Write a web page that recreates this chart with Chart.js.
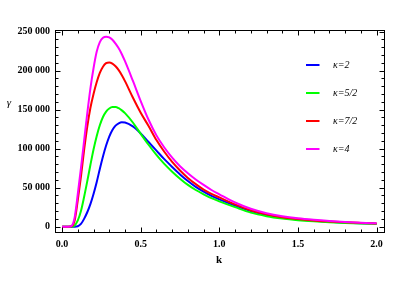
<!DOCTYPE html>
<html>
<head>
<meta charset="utf-8">
<script src="https://cdn.jsdelivr.net/npm/chart.js@4/dist/chart.umd.min.js"></script>
<style>
  html, body { margin: 0; padding: 0; background: #fff; }
  #wrap { width: 400px; height: 300px; }
</style>
</head>
<body>
<div id="wrap"><canvas id="graph"></canvas></div>
<script>
// Datos
const kValues = [0, 0.02, 0.04, 0.06, 0.08, 0.10, 0.12, 0.14, 0.16, 0.18, 0.20, 0.22, 0.24, 0.26, 0.28, 0.30, 0.32, 0.34, 0.36, 0.38, 0.40,
    0.45, 0.50, 0.55, 0.60, 0.65, 0.70, 0.75, 0.80, 0.85, 0.90, 0.95, 1.0, 1.1, 1.2, 1.3, 1.4, 1.5, 1.6, 1.7, 1.8, 1.9, 2.0];
const gammaK2  = [0, 0, 0, 0, 0, 500, 3500, 10000, 18500, 29000, 42000, 57000, 74000, 90000, 104000, 115500, 124000, 129500, 132500, 133800, 133500,
    128500, 119500, 108500, 97500, 86500, 76500, 67000, 58500, 51000, 45000, 39500, 35000, 27000, 20000, 15000, 11600, 9200, 7500, 6200, 5200, 4400, 3800];
const gammaK52 = [0, 0, 0, 0, 1500, 8000, 20000, 38000, 58000, 79000, 99000, 116000, 130000, 140500, 147500, 151500, 153300, 153300, 151800, 149000, 145500,
    133500, 119000, 105000, 92000, 80500, 70500, 61500, 53500, 47000, 41500, 36500, 32500, 25000, 18000, 13500, 10500, 8400, 6900, 5700, 4800, 4100, 3500];
const gammaK72 = [0, 0, 0, 500, 8000, 34000, 64000, 98000, 128000, 152000, 170000, 185000, 197000, 205000, 209500, 210500, 209000, 205500, 200500, 194000, 186500,
    165500, 146000, 129000, 111000, 96000, 83000, 72000, 62500, 54500, 47500, 42000, 37500, 28500, 21000, 15800, 12200, 9800, 8000, 6700, 5600, 4800, 4100];
const gammaK4  = [0, 0, 0, 1000, 12000, 42000, 75000, 110000, 145000, 177000, 203000, 224000, 236500, 242000, 243500, 242500, 239500, 234500, 228500, 221000, 212000,
    187000, 161000, 137000, 117000, 101500, 88500, 77500, 68500, 60500, 53500, 47000, 41500, 31000, 23000, 17300, 13400, 10700, 8800, 7300, 6100, 5100, 4300];
const kappaLabels = ["κ=2", "κ=5/2", "κ=7/2", "κ=4"];
const seriesColors = ["#0000ff", "#00ff00", "#ff0000", "#ff00ff"];
const xTicks = [0, 0.5, 1.0, 1.5, 2.0];
const yTicks = [0, 50000, 100000, 150000, 200000, 250000];

// Convierte una serie en puntos {x, y}
function toPoints(values) {
    return kValues.map((k, i) => ({ x: k, y: values[i] }));
}

// Marco con marcas hacia adentro (estilo Mathematica) y leyenda interna
const framePlugin = {
    id: "framePlugin",
    afterDraw(chart) {
        const ctx = chart.ctx;
        const { left, right, top, bottom } = chart.chartArea;
        const xs = chart.scales.x;
        const ys = chart.scales.y;
        const l = Math.round(left) + 0.5, r = Math.round(right) + 0.5;
        const t = Math.round(top) + 0.5, b = Math.round(bottom) + 0.5;
        ctx.save();
        ctx.strokeStyle = "#000";
        ctx.lineWidth = 1;
        ctx.strokeRect(l, t, r - l, b - t);

        ctx.beginPath();
        // Marcas del eje x (cada 0.1, mayores cada 0.5)
        for (let i = 0; i <= 20; i++) {
            const px = Math.round(xs.getPixelForValue(i / 10)) + 0.5;
            const len = i % 5 === 0 ? 5 : 3;
            ctx.moveTo(px, b); ctx.lineTo(px, b - len);
            ctx.moveTo(px, t); ctx.lineTo(px, t + len);
        }
        // Marcas del eje y (cada 10000, mayores cada 50000)
        for (let i = 0; i <= 25; i++) {
            const py = Math.round(ys.getPixelForValue(i * 10000)) + 0.5;
            const len = i % 5 === 0 ? 5 : 3;
            ctx.moveTo(l, py); ctx.lineTo(l + len, py);
            ctx.moveTo(r, py); ctx.lineTo(r - len, py);
        }
        ctx.stroke();

        // Titulos de ejes
        ctx.fillStyle = "#000";
        ctx.textAlign = "center";
        ctx.textBaseline = "middle";
        ctx.font = "bold 11px 'Liberation Serif'";
        ctx.fillText("k", 219, 260);
        ctx.font = "italic 11px 'Liberation Serif'";
        ctx.fillText("γ", 9, 103);

        // Leyenda
        const rows = [65, 93, 121, 149];
        chart.data.datasets.forEach((ds, i) => {
            ctx.strokeStyle = ds.borderColor;
            ctx.lineWidth = 2;
            ctx.beginPath();
            ctx.moveTo(306, rows[i]); ctx.lineTo(319.5, rows[i]);
            ctx.stroke();
            ctx.fillStyle = "#000";
            ctx.textAlign = "left";
            ctx.font = "italic 10px 'Liberation Serif'";
            ctx.fillText(ds.label, 333, rows[i]);
        });
        ctx.restore();
    }
};

const ctxGraph = document.getElementById("graph").getContext("2d");
const datasetOrder = [3, 2, 1, 0];
new Chart(ctxGraph, {
    type: "line",
    data: {
        datasets: [gammaK2, gammaK52, gammaK72, gammaK4].map((values, i) => ({
            label: kappaLabels[i],
            data: toPoints(values),
            borderColor: seriesColors[i],
            backgroundColor: seriesColors[i],
            borderWidth: 2,
            pointRadius: 0,
            cubicInterpolationMode: "monotone",
            fill: false,
            order: datasetOrder[i],
        }))
    },
    options: {
        responsive: true,
        maintainAspectRatio: false,
        animation: false,
        layout: { padding: { left: 0, right: 16, top: 30, bottom: 0 } },
        plugins: {
            legend: { display: false },
            tooltip: { enabled: false },
        },
        scales: {
            x: {
                type: "linear",
                min: -0.045,
                max: 2.047,
                afterBuildTicks: scale => { scale.ticks = xTicks.map(v => ({ value: v })); },
                afterFit: scale => { scale.height = 68; },
                grid: { display: false, drawTicks: false },
                border: { display: false },
                ticks: {
                    padding: 6,
                    maxRotation: 0,
                    color: "#000",
                    font: { family: "'Liberation Serif'", size: 10, weight: "bold" },
                    callback: v => v.toFixed(1),
                },
            },
            y: {
                min: -6800,
                max: 252000,
                afterBuildTicks: scale => { scale.ticks = yTicks.map(v => ({ value: v })); },
                afterFit: scale => { scale.width = 55; },
                grid: { display: false, drawTicks: false },
                border: { display: false },
                ticks: {
                    padding: 5,
                    color: "#000",
                    font: { family: "'Liberation Serif'", size: 10, weight: "bold" },
                    callback: v => v === 0 ? "0" : v.toLocaleString("en-US").replace(/,/g, " "),
                },
            },
        },
    },
    plugins: [framePlugin],
});
</script>
</body>
</html>
